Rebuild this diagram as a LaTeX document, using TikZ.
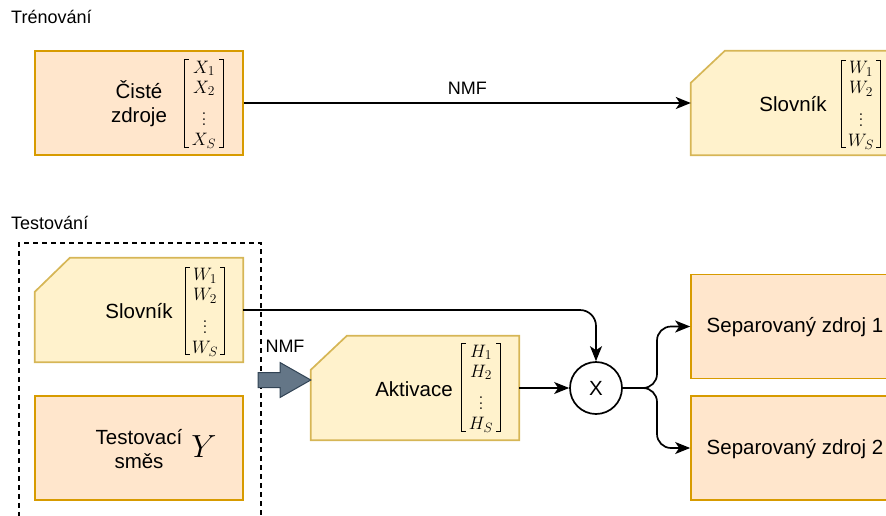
\RequirePackage{fix-cm}
\documentclass[tikz,border=0pt]{standalone}
\usepackage{amsmath}
\usepackage{fontspec}
\setmainfont{Liberation Sans}
\usetikzlibrary{arrows.meta}
\definecolor{peachfill}{HTML}{FFE6CC}
\definecolor{peachdraw}{HTML}{D79B00}
\definecolor{yelfill}{HTML}{FFF2CC}
\definecolor{yeldraw}{HTML}{D6B656}
\definecolor{arrfill}{HTML}{647687}
\definecolor{arrdraw}{HTML}{314354}
\DeclareMathSizes{18}{18}{13.5}{9.5}
\DeclareMathSizes{32}{32}{22}{16}
\tikzset{
  boxtext/.style={inner sep=0pt, align=center, font=\fontsize{20.5}{24}\selectfont},
  boxfr/.style={rectangle, minimum width=208pt, minimum height=104pt, inner sep=0pt},
  peach/.style={fill=peachfill, draw=peachdraw, line width=1.7pt},
  yel/.style={fill=yelfill, draw=yeldraw, line width=1.7pt},
  lbl/.style={inner sep=0pt, font=\fontsize{18}{21}\selectfont},
  matbr/.style={inner sep=0pt, minimum width=38pt, minimum height=87pt},
  matc/.style={inner sep=0pt, font=\fontsize{18}{20}\selectfont},
  brkline/.style={line width=1.3pt},
  conn/.style={line width=1.7pt, -{Stealth[length=15pt,width=12pt,inset=4pt]}},
}
\newcommand{\myvdots}{\vbox{\baselineskip=5.5pt\lineskiplimit=0pt\kern9pt\hbox{$.$}\hbox{$.$}\hbox{$.$}}}
\newcommand{\matx}[1]{$\renewcommand{\arraystretch}{1.0}\begin{array}{@{}c@{}}#1_1\\[0pt]#1_2\\[5pt]\myvdots\\[0pt]#1_S\end{array}$}
\newcommand{\brackets}[1]{%
  \draw[brkline] ([xshift=4pt]#1.north west) -- (#1.north west) -- (#1.south west) -- ([xshift=4pt]#1.south west);
  \draw[brkline] ([xshift=-4pt]#1.north east) -- (#1.north east) -- (#1.south east) -- ([xshift=-4pt]#1.south east);}
\begin{document}
\begin{tikzpicture}[x=1pt,y=-1pt]
\useasboundingbox (0,0) rectangle (886,515);
\begin{scope}
\clip (0,0) rectangle (886,515);
% labels
\node[lbl, anchor=west] (trlbl) at (11,17) {Trénování};
\node[lbl, anchor=west] (telbl) at (11,223) {Testování};
% dashed box
\node[draw, dash pattern=on 5pt off 4pt, line width=1.7pt, rectangle, inner sep=0pt,
  minimum width=242pt, minimum height=300pt, anchor=north west] (testbox) at (18,242) {};
% top clean sources box
\node[boxfr, peach] (cz) at (139,103) {};
\node[boxtext] (cztext) at (139,104) {Čisté\\zdroje};
\node[matbr] (czbr) at (204,103.5) {};
\node[matc] (czmat) at (204,105.5) {\matx{X}};
\brackets{czbr}
% top dictionary (chamfered)
\node[boxfr] (s1) at (795,103) {};
\filldraw[yel] (s1.south west) -- ([yshift=-32pt]s1.north west) -- ([xshift=34pt]s1.north west)
  -- (s1.north east) -- (s1.south east) -- cycle;
\node[boxtext] (s1text) at (793,104) {Slovník};
\node[matbr] (s1br) at (861,104) {};
\node[matc] (s1mat) at (861,106) {\matx{W}};
\brackets{s1br}
% bottom dictionary
\node[boxfr] (s2) at (139,310) {};
\filldraw[yel] (s2.south west) -- ([yshift=-34pt]s2.north west) -- ([xshift=35pt]s2.north west)
  -- (s2.north east) -- (s2.south east) -- cycle;
\node[boxtext] (s2text) at (139,311) {Slovník};
\node[matbr] (s2br) at (205,311) {};
\node[matc] (s2mat) at (205,313) {\matx{W}};
\brackets{s2br}
% test mixture
\node[boxfr, peach] (mix) at (139,448) {};
\node[boxtext] (mixtext) at (139,449) {Testovací\\směs};
\node[inner sep=0pt, font=\fontsize{32}{34}\selectfont] (ymat) at (204,447) {$Y$};
% activations
\node[boxfr] (akt) at (415,388) {};
\filldraw[yel] (akt.south west) -- ([yshift=-34pt]akt.north west) -- ([xshift=36pt]akt.north west)
  -- (akt.north east) -- (akt.south east) -- cycle;
\node[boxtext] (akttext) at (414,389) {Aktivace};
\node[matbr] (aktbr) at (481,387.5) {};
\node[matc] (aktmat) at (481,389.5) {\matx{H}};
\brackets{aktbr}
% multiplication node
\node[circle, draw, line width=1.7pt, minimum size=52pt, inner sep=0pt, fill=white,
  font=\fontsize{20.5}{24}\selectfont] (x) at (596,388) {X};
% separated sources
\node[boxfr, peach] (sep1) at (795,326.5) {};
\node[boxtext] (sep1text) at (795,327) {Separovaný zdroj 1};
\node[boxfr, peach] (sep2) at (795,448) {};
\node[boxtext] (sep2text) at (795,449) {Separovaný zdroj 2};
% connectors
\draw[conn] (cz.east) -- node[lbl, above=8pt] (nmf1) {NMF} (s1.west);
\draw[conn, rounded corners=16pt] (s2.east) -| (x.north);
\draw[conn] (akt.east) -- (x.west);
\coordinate (split) at (657,388);
\draw[conn, rounded corners=14pt] (x.east) -- (split) |- (sep1.west);
\draw[conn, rounded corners=14pt] (x.east) -- (split) |- (sep2.west);
% NMF block arrow
\coordinate (nmfs) at (258,380);
\filldraw[fill=arrfill, draw=arrdraw, line width=1pt]
  (258,372.5) -- (280,372.5) -- (280,362.5) -- (akt.west |- nmfs) -- (280,397.5)
  -- (280,387.5) -- (258,387.5) -- cycle;
\node[lbl, anchor=center] (nmf2) at (285,346) {NMF};
\end{scope}
\end{tikzpicture}
\end{document}
